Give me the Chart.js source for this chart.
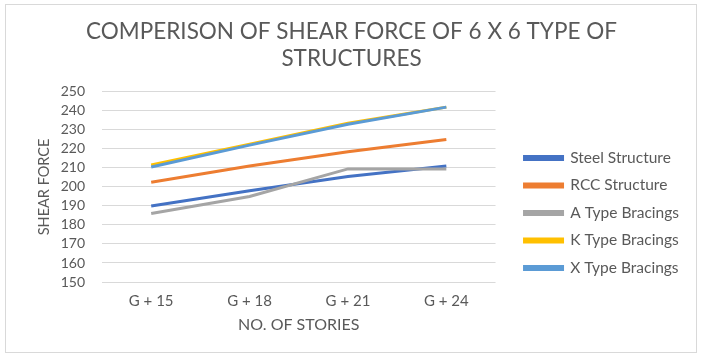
<!DOCTYPE html>
<html>
<head>
<meta charset="utf-8">
<script src="https://cdn.jsdelivr.net/npm/chart.js@4/dist/chart.umd.min.js"></script>
<style>
  html, body { margin: 0; padding: 0; background: #ffffff; }
  #wrap { position: relative; width: 703px; height: 358px; }
  #frame { position: absolute; left: 5px; top: 4px; width: 692px; height: 349px; box-sizing: border-box; border: 1px solid #d9d9d9; pointer-events: none; }
</style>
</head>
<body>
<div id="wrap">
  <canvas id="c" width="703" height="358"></canvas>
  <div id="frame"></div>
</div>
<script>
const categories = ['G + 15', 'G + 18', 'G + 21', 'G + 24'];
const seriesNames = ['Steel Structure', 'RCC Structure', 'A Type Bracings', 'K Type Bracings', 'X Type Bracings'];
const steelStructure = [190, 198, 205.5, 211];
const rccStructure = [202.5, 211, 218.5, 225];
const aTypeBracings = [186, 195, 209.5, 209.5];
const kTypeBracings = [211.5, 222.5, 233.5, 242];
const xTypeBracings = [210.5, 222, 233, 242];
const seriesColors = ['#4472C4', '#ED7D31', '#A5A5A5', '#FFC000', '#5B9BD5'];
const titleLines = ['COMPERISON OF SHEAR FORCE OF 6 X 6 TYPE OF', 'STRUCTURES'];
const yTitle = 'SHEAR FORCE';
const xTitle = 'NO. OF STORIES';

const seriesValues = [steelStructure, rccStructure, aTypeBracings, kTypeBracings, xTypeBracings];
const textColor = '#595959';
const FONT = 'Lato, "Open Sans", sans-serif';

const legendShift = {
  id: 'legendShift',
  afterLayout(chart) {
    const lg = chart.legend;
    if (!lg) return;
    lg.left += 17; lg.right += 17;
    lg.top += 26; lg.bottom += 26;
  }
};

new Chart(document.getElementById('c'), {
  type: 'line',
  data: {
    labels: categories,
    datasets: seriesNames.map((name, i) => ({
      label: name,
      data: seriesValues[i],
      borderColor: seriesColors[i],
      backgroundColor: seriesColors[i],
      borderWidth: 3,
      pointRadius: 0,
      tension: 0,
      fill: false,
      order: seriesNames.length - i
    }))
  },
  options: {
    responsive: false,
    animation: false,
    devicePixelRatio: 1,
    layout: { padding: { left: 31, right: 31, top: 0, bottom: 10 } },
    plugins: {
      title: {
        display: true,
        text: titleLines,
        color: textColor,
        font: { family: FONT, size: 22.5, weight: 'normal', lineHeight: 1.22 },
        padding: { top: 18, bottom: 19 }
      },
      legend: {
        display: true,
        position: 'right',
        fullSize: false,
        align: 'center',
        maxWidth: 220,
        labels: {
          color: textColor,
          font: { family: FONT, size: 15.5 },
          boxWidth: 38,
          boxHeight: 3,
          padding: 12,
          sort: (a, b) => a.datasetIndex - b.datasetIndex
        }
      },
      tooltip: { enabled: false }
    },
    scales: {
      x: {
        offset: true,
        grid: { display: false, drawTicks: false },
        border: { display: false },
        ticks: { color: textColor, font: { family: FONT, size: 15 }, padding: 10, maxRotation: 0 },
        title: { display: true, text: xTitle, color: textColor, font: { family: FONT, size: 16 }, padding: { top: 0, bottom: 14 } },
        afterFit(scale) { scale.height = 66; }
      },
      y: {
        min: 150,
        max: 250,
        grid: { color: '#d9d9d9', lineWidth: 1, drawTicks: false },
        border: { display: false },
        ticks: { stepSize: 10, autoSkip: false, color: textColor, font: { family: FONT, size: 14 }, padding: 17 },
        title: { display: true, text: yTitle, color: textColor, font: { family: FONT, size: 14.5 }, padding: { top: 5, bottom: 0 } },
        afterFit(scale) { scale.width = 71; }
      }
    }
  },
  plugins: [legendShift]
});
</script>
</body>
</html>
